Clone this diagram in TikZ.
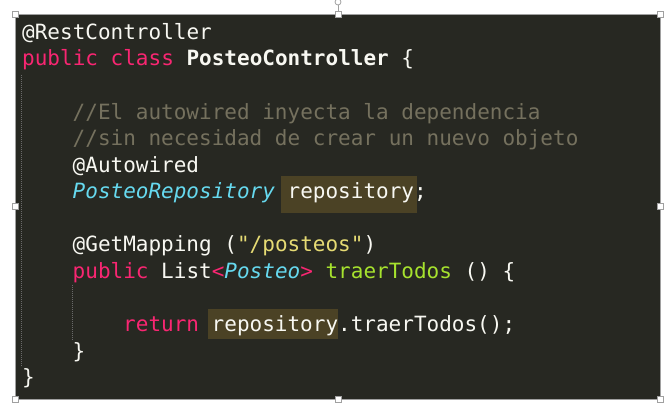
\documentclass[tikz,border=0pt]{standalone}
\usepackage{fontspec}
\newfontfamily\codefont{DejaVu Sans Mono}
\definecolor{bgc}{HTML}{272822}
\definecolor{fgc}{HTML}{F8F8F2}
\definecolor{cmt}{HTML}{75715E}
\definecolor{kw}{HTML}{F92672}
\definecolor{ty}{HTML}{66D9EF}
\definecolor{fn}{HTML}{A6E22E}
\definecolor{str}{HTML}{E6DB74}
\definecolor{hl}{HTML}{4B4225}
\definecolor{frm}{HTML}{A0A0A0}
\definecolor{guide}{HTML}{6A6A6A}
\tikzset{
  codeline/.style={anchor=base west, inner sep=0pt, text=fgc,
    font=\codefont\fontsize{21}{21}\selectfont},
  handle/.style={draw=frm, fill=white, line width=0.8pt, minimum size=6pt, inner sep=0pt, rectangle},
  guideline/.style={guide, line width=0.8pt, dash pattern=on 1pt off 1pt},
}
\newcommand{\K}[1]{\textcolor{kw}{#1}}
\newcommand{\Ty}[1]{\textcolor{ty}{\itshape #1}}
\newcommand{\Fn}[1]{\textcolor{fn}{#1}}
\newcommand{\St}[1]{\textcolor{str}{#1}}
\newcommand{\Cm}[1]{\textcolor{cmt}{#1}}
\begin{document}
\begin{tikzpicture}[x=1pt,y=-1pt]
\useasboundingbox (0,0) rectangle (670,414);
% panel
\fill[bgc] (15.5,14) rectangle (660,399);
\draw[frm, line width=0.8pt] (15.5,14) rectangle (660,399);
% highlights
\fill[hl] (281,176) rectangle (417,213);
\fill[hl] (208,309) rectangle (338,339);
% indent guides
\draw[guideline] (21.7,75) -- (21.7,367);
\draw[guideline] (72.5,285) -- (72.5,341);
% code lines
\def\cw{12.63}
\def\lp{26.58}
\node[codeline] (l0) at (22, 39.3) {@RestController};
\node[codeline] (l1) at (22, 39.3+\lp) {\K{public class} \textbf{PosteoController} \{};
\node[codeline] (l3) at (22+4*\cw, 39.3+3*\lp) {\Cm{//El autowired inyecta la dependencia}};
\node[codeline] (l4) at (22+4*\cw, 39.3+4*\lp) {\Cm{//sin necesidad de crear un nuevo objeto}};
\node[codeline] (l5) at (22+4*\cw, 39.3+5*\lp) {@Autowired};
\node[codeline] (l6) at (22+4*\cw, 39.3+6*\lp) {\Ty{PosteoRepository} repository;};
\node[codeline] (l8) at (22+4*\cw, 39.3+8*\lp) {@GetMapping (\St{"/posteos"})};
\node[codeline] (l9) at (22+4*\cw, 39.3+9*\lp) {\K{public} List\K{<}\Ty{Posteo}\K{>} \Fn{traerTodos} () \{};
\node[codeline] (l11) at (22+8*\cw, 39.3+11*\lp) {\K{return} repository.traerTodos();};
\node[codeline] (l12) at (22+4*\cw, 39.3+12*\lp) {\}};
\node[codeline] (l13) at (22, 39.3+13*\lp) {\}};
% selection handles
\draw[frm, line width=0.8pt] (338,11) -- (338,5);
\draw[frm, line width=0.8pt] (338,2) circle (3);
\node[handle] (h1) at (15.5,14) {};
\node[handle] (h2) at (338,14) {};
\node[handle] (h3) at (660,14) {};
\node[handle] (h4) at (15.5,206) {};
\node[handle] (h5) at (660,206) {};
\node[handle] (h6) at (15.5,399) {};
\node[handle] (h7) at (338,399) {};
\node[handle] (h8) at (660,399) {};
\end{tikzpicture}
\end{document}
